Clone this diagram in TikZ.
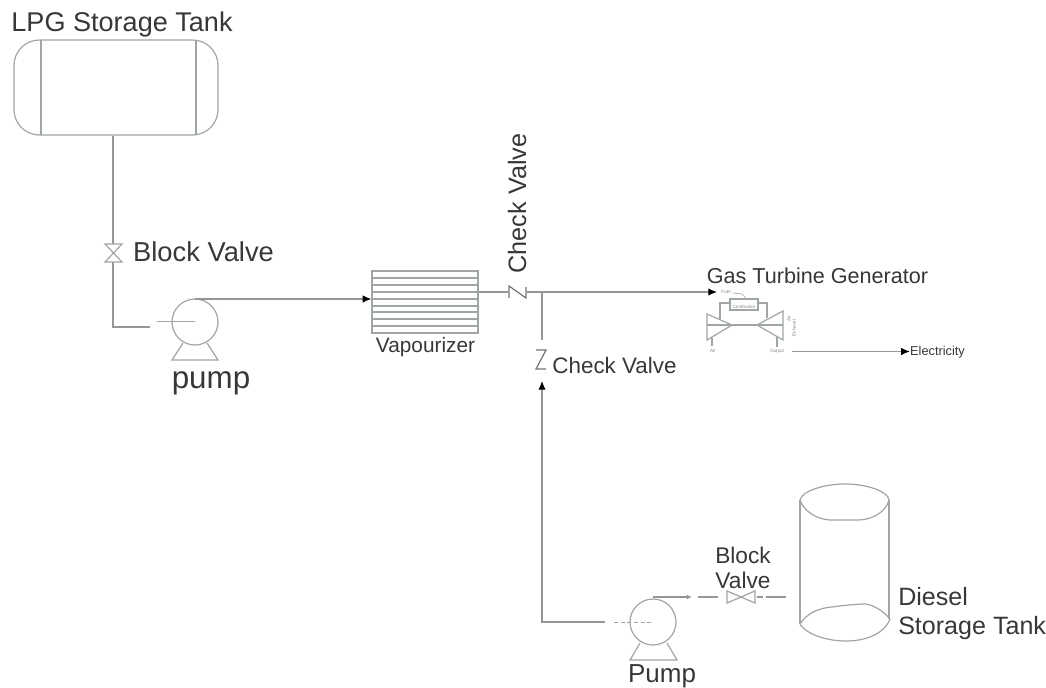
\documentclass[tikz,border=0pt]{standalone}
\usepackage{fontspec}
\setmainfont{Liberation Sans}
\usetikzlibrary{arrows.meta}
\definecolor{pipe}{RGB}{150,150,150}
\definecolor{equip}{RGB}{160,165,165}
\definecolor{ink}{RGB}{55,55,55}
\tikzset{
  x=0.75pt,y=-0.75pt,
  equipline/.style={draw=equip,line width=0.9pt},
  pipeline/.style={draw=pipe,line width=0.8pt},
  flow/.style={draw=pipe,line width=0.8pt,-{Latex[length=6.5pt,width=5.5pt,color=black]}},
  checkline/.style={draw=ink!70,line width=0.9pt},
  lab/.style={inner sep=0pt,text=ink,font=\fontsize{#1}{#1}\selectfont,align=center},
  lab/.default=13,
  tinylab/.style={inner sep=0pt,text=ink!60,font=\fontsize{3.5}{4}\selectfont},
}
\begin{document}
\begin{tikzpicture}
\useasboundingbox (0,0) rectangle (1046,688);
% LPG tank
\node[equipline,draw,minimum width=153pt,minimum height=71.25pt,rounded corners=19pt,inner sep=0pt] (lpg) at (116,87.5) {};
\draw[equipline] (41,40)--(41,135);
\draw[equipline] (196,40)--(196,135);
\node[lab=20.3] (lpglab) at (122,25) {LPG Storage Tank};
% LPG pipe
\coordinate (v1t) at (113,244);
\coordinate (v1b) at (113,262);
\coordinate (p1in) at (150,327);
\coordinate (c1) at (113,327);
\draw[pipeline] (lpg.south -| v1t) -- (v1t);
\draw[pipeline] (v1b) -- (c1) -- (p1in);
\draw[equipline] (105,244)--(122,244)--(105,262)--(122,262)--cycle;
\node[lab=20.5] (bv1) at (203.5,252) {Block Valve};
% pump 1
\node[equipline,draw,circle,minimum size=34.5pt,inner sep=0pt] (p1) at (195,322) {};
\draw[equipline,line width=0.6pt] (157,321)--(195,321);
\draw[equipline] (183,343)--(172,360)--(218,360)--(207,343);
\coordinate (p1o) at (195,299);
\coordinate (p1s) at (231,299);
\draw[pipeline] (p1o)--(p1s);
\node[lab=23.5] (pumplab) at (211,383) {pump};
% vapourizer
\node[equipline,draw,minimum width=79.5pt,minimum height=46.5pt,inner sep=0pt] (vap) at (425,302) {};
\foreach \y in {278,285,292,299,306,312,319,326}{\draw[equipline] (372,\y)--(478,\y);}
\node[lab=15.6] (vaplab) at (425.5,347) {Vapourizer};
\draw[flow] (p1s)--(vap.west |- p1s);
% check valve 1
\coordinate (cv1w) at (508,292);
\coordinate (cv1e) at (527,292);
\coordinate (tee) at (542,292);
\coordinate (gt) at (717,292);
\draw[pipeline] (vap.east |- cv1w)--(cv1w);
\draw[checkline] (509,298)--(509,286)--(526,298)--(526,287);
\draw[flow] (cv1e)--(gt);
\node[lab=18.9,rotate=90] (cv1lab) at (517,203.5) {Check Valve};
% check valve 2
\coordinate (cv2t) at (542,340);
\coordinate (cv2a) at (542,381);
\coordinate (c2) at (542,622);
\coordinate (p2in) at (605,622);
\draw[pipeline] (tee)--(cv2t);
\draw[checkline] (536,350)--(546,350)--(536,369)--(546,369);
\draw[flow] (p2in)--(c2)--(cv2a);
\node[lab=16.8] (cv2lab) at (614.5,365) {Check Valve};
% pump 2
\node[equipline,draw,circle,minimum size=34.5pt,inner sep=0pt] (p2) at (653,622) {};
\draw[equipline,densely dashed,line width=0.6pt] (614,622)--(653,622);
\draw[equipline] (640,643)--(630,660)--(677,660)--(667,643);
\coordinate (p2o) at (653,597);
\coordinate (p2s) at (692,597);
\draw[flow,-{Latex[length=4pt,width=3.5pt,color=pipe]}] (p2o)--(p2s);
\node[lab=19.5] (pump2lab) at (662,676) {Pump};
% valve 2
\coordinate (v2w) at (698,597);
\coordinate (v2x) at (718,597);
\coordinate (v2r) at (757,597);
\coordinate (v2s) at (763,597);
\coordinate (v2e) at (766,597);
\coordinate (v2f) at (786,597);
\draw[pipeline] (v2w)--(v2x);
\draw[equipline] (727,591)--(755,603)--(755,591)--(727,603)--cycle;
\draw[pipeline] (v2r)--(v2s);
\draw[pipeline] (v2e)--(v2f);
\node[lab=17] (bv2lab) at (743,567.5) {Block\\[1.75pt]Valve};
% diesel tank
\draw[equipline] (800,500) .. controls (802,491) and (824,484) .. (845,484) .. controls (866,484) and (888,491) .. (889,500) .. controls (886,512) and (872,520) .. (858,520) -- (832,520) .. controls (816,520) and (803,510) .. (800,500);
\draw[equipline] (800,500)--(800,624);
\draw[equipline] (889,500)--(889,619);
\draw[equipline] (800,624) .. controls (806,614) and (818,608) .. (832,607) .. controls (846,605) and (858,604) .. (866,604) .. controls (876,606) and (884,612) .. (890,619);
\draw[equipline] (800,624) .. controls (806,634) and (826,641) .. (846,641) .. controls (866,641) and (884,634) .. (890,619);
\node[lab=18.8,align=left,anchor=west] (dlab) at (898,613.5) {Diesel\\[3pt]Storage Tank};
% gas turbine
\node[lab=16.2] (gtlab) at (817.5,276) {Gas Turbine Generator};
\node[tinylab] (fuel) at (726,292) {Fuel};
\node[equipline,draw,minimum width=21pt,minimum height=8.25pt,inner sep=0pt] (cb) at (744,304.5) {};
\node[tinylab] at (744,306.5) {Combustor};
\draw[equipline,line width=0.5pt] (733,293)--(742,294)--(747,299);
\draw[equipline] (707,314)--(732,325)--(707,340)--cycle;
\draw[equipline] (783,311)--(757,325)--(783,340)--cycle;
\draw[equipline] (720,319)--(720,303)--(730,303);
\draw[equipline] (767,318)--(767,303)--(758,303);
\draw[equipline] (707,325)--(783,325);
\draw[equipline] (712,338)--(712,346);
\draw[equipline] (777,337)--(777,347);
\node[tinylab] (air) at (713,351) {Air};
\node[tinylab] (out) at (777,351) {Output};
\node[tinylab,rotate=90] at (789,319) {Air};
\node[tinylab,rotate=90] at (794,328) {Exhaust};
\node[lab=9.6] (elec) at (937.5,352) {Electricity};
\coordinate (gto) at (792,351.5);
\draw[flow] (gto)--(gto -| elec.west);
\end{tikzpicture}
\end{document}
